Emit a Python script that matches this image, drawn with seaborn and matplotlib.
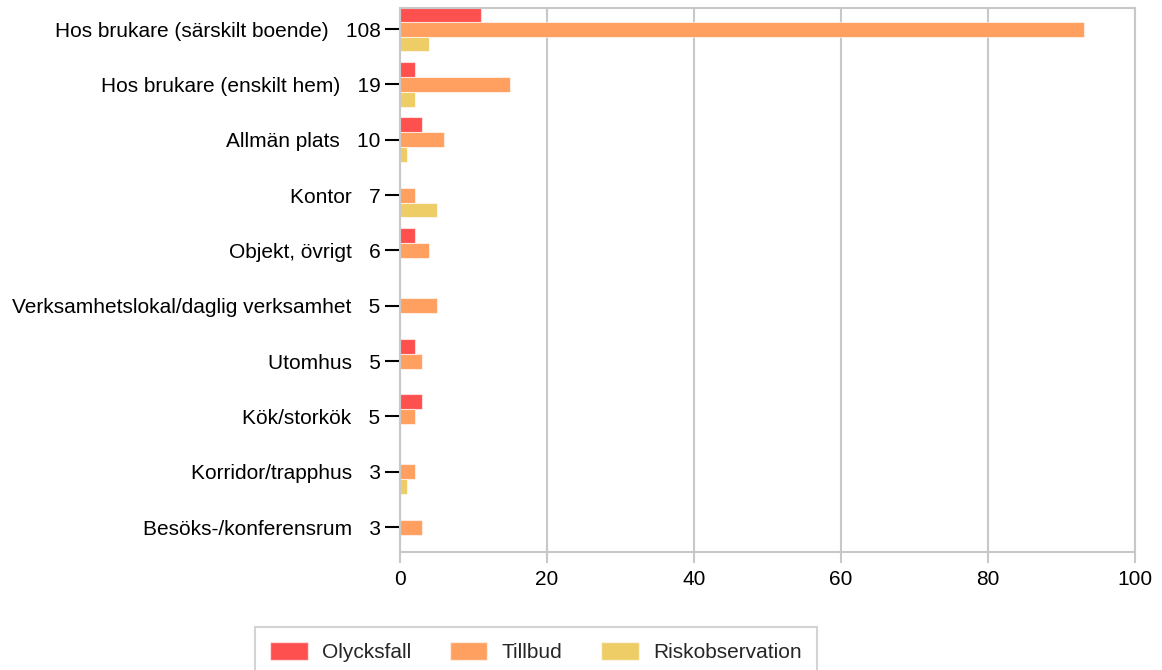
import matplotlib
matplotlib.use("Agg")
import matplotlib.pyplot as plt
import seaborn as sns
import pandas as pd

categories = ["Hos brukare (särskilt boende)", "Hos brukare (enskilt hem)", "Allmän plats",
              "Kontor", "Objekt, övrigt", "Verksamhetslokal/daglig verksamhet", "Utomhus",
              "Kök/storkök", "Korridor/trapphus", "Besöks-/konferensrum"]
totals = [108, 19, 10, 7, 6, 5, 5, 5, 3, 3]
olycksfall = [11, 2, 3, 0, 2, 0, 2, 3, 0, 0]
tillbud = [93, 15, 6, 2, 4, 5, 3, 2, 2, 3]
riskobservation = [4, 2, 1, 5, 0, 0, 0, 0, 1, 0]
series_names = ["Olycksfall", "Tillbud", "Riskobservation"]
colors = ["#FF5050", "#FFA060", "#EECC66"]

labels = [f"{c}   {t}" for c, t in zip(categories, totals)]
rows = []
for lab, o, t, r in zip(labels, olycksfall, tillbud, riskobservation):
    rows.append((lab, series_names[0], o))
    rows.append((lab, series_names[1], t))
    rows.append((lab, series_names[2], r))
df = pd.DataFrame(rows, columns=["kategori", "typ", "antal"])

sns.set_theme(style="white")
plt.rcParams["font.family"] = ["Liberation Sans", "DejaVu Sans"]

FS = 15
fig = plt.figure(figsize=(11.62, 6.70), dpi=100)
ax = fig.add_axes([400/1162, 1-552/670, (1135-400)/1162, (552-8)/670])

sns.barplot(data=df, y="kategori", x="antal", hue="typ", order=labels,
            hue_order=series_names, palette=colors, saturation=1, orient="h", width=0.81,
            edgecolor=(1, 1, 1, 0.6), linewidth=0.8, ax=ax, legend=False)

ax.set_xlim(0, 100)
ax.set_ylim(9.45, -0.38)
ax.set_xticks([0, 20, 40, 60, 80, 100])
ax.set_xlabel("")
ax.set_ylabel("")
ax.grid(axis="x", color="#C8C8C8", linewidth=1.5)
ax.set_axisbelow(True)
for s in ax.spines.values():
    s.set_visible(True)
    s.set_color("#C8C8C8")
    s.set_linewidth(1.5)
ax.tick_params(axis="y", length=11, width=1.5, color="black", pad=3, labelsize=FS, left=True)
ax.tick_params(axis="x", length=8, width=1.5, color="#C8C8C8", pad=5, labelsize=FS, bottom=True)
for t in ax.get_yticklabels() + ax.get_xticklabels():
    t.set_color("black")

from matplotlib.patches import Patch
handles = [Patch(facecolor=c, edgecolor=(1, 1, 1, 0.6)) for c in colors]
leg = fig.legend(handles, series_names, loc="upper center", bbox_to_anchor=(536/1162, 1-627/670),
                 ncol=3, frameon=True, fancybox=False, fontsize=FS, handlelength=1.8,
                 handleheight=1.0, columnspacing=1.85, borderpad=0.7, handletextpad=0.7,
                 borderaxespad=0)
leg.get_frame().set_edgecolor("#C8C8C8")
leg.get_frame().set_linewidth(1.5)

fig.savefig("out.png", dpi=100)
